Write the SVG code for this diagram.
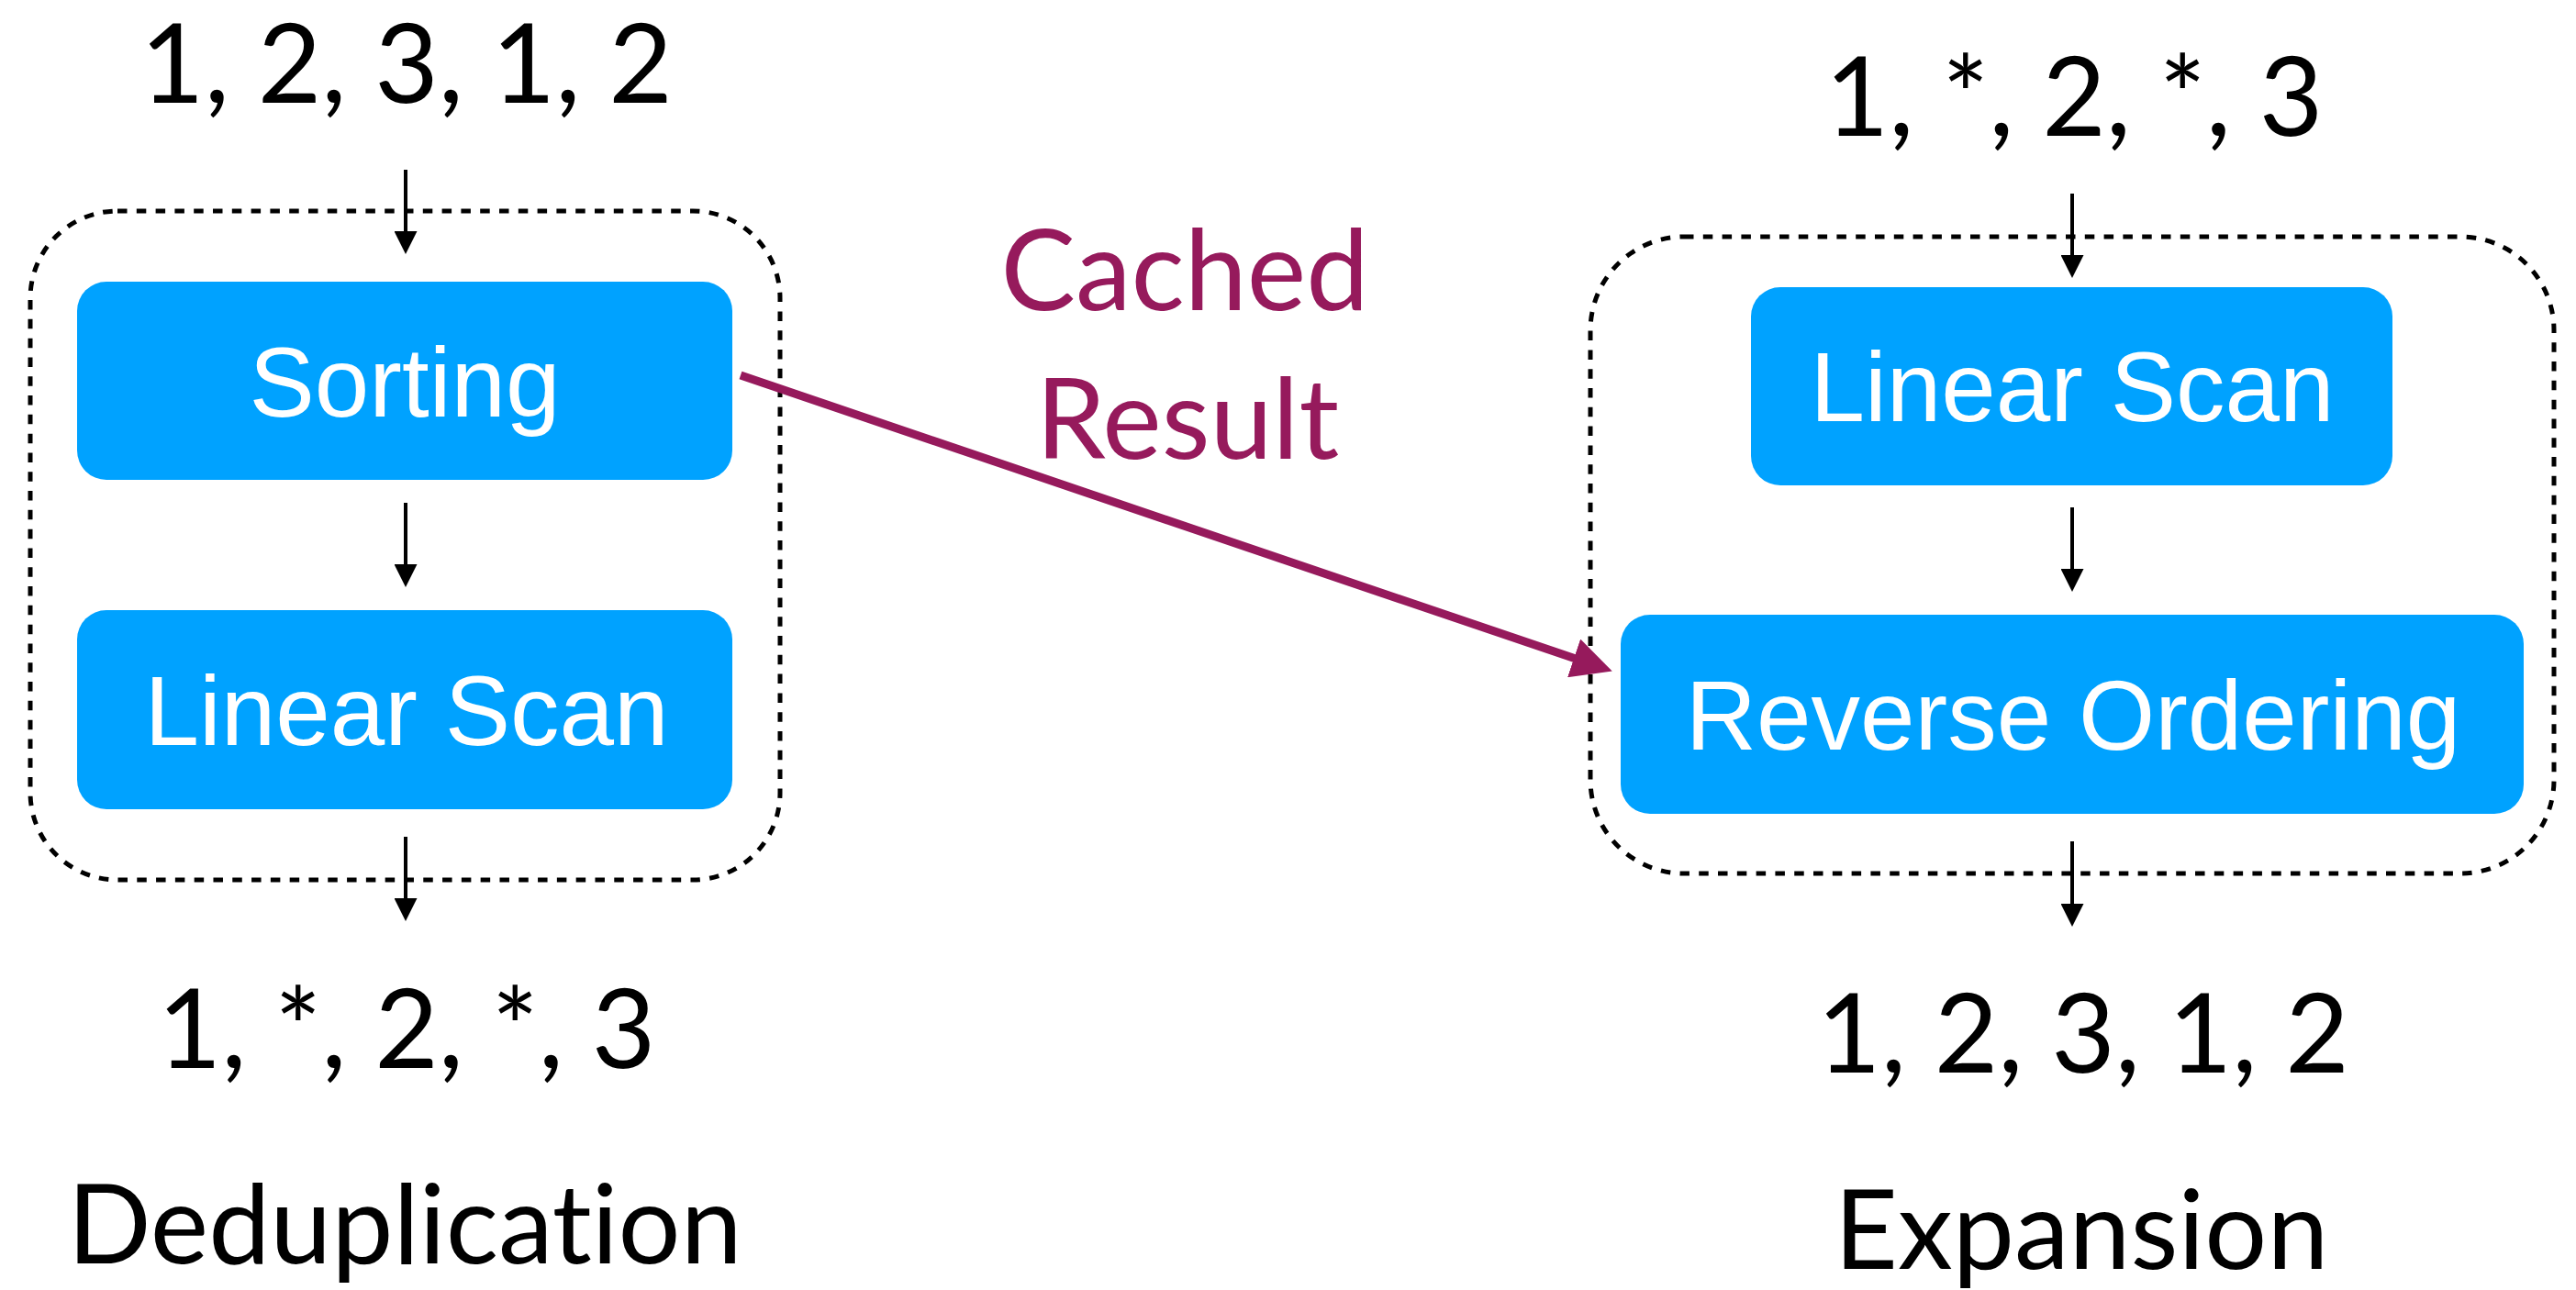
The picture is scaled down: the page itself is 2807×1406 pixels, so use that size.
<svg xmlns="http://www.w3.org/2000/svg" width="2807" height="1406" viewBox="0 0 2807 1406">
  <style>
    text { font-variant-ligatures: none; }
    .seq { font-family: Lato, "Noto Sans", sans-serif; font-size: 120px; fill: #000; text-anchor: middle; }
    .title { font-family: Lato, "Noto Sans", sans-serif; font-size: 120px; fill: #000; text-anchor: middle; }
    .cache { font-family: Lato, "Noto Sans", sans-serif; font-size: 122px; fill: #961A5C; text-anchor: middle; }
    .step { fill: #00A2FF; }
    .step-label { font-family: "Liberation Sans", Arial, sans-serif; font-size: 107px; fill: #fff; text-anchor: middle; }
    .frame { fill: none; stroke: #000; stroke-width: 5; stroke-dasharray: 10.5 10.3; }
    .flow { stroke: #000; stroke-width: 4; fill: none; marker-end: url(#head); }
    .reuse { stroke: #961A5C; stroke-width: 9; fill: none; marker-end: url(#head-reuse); }
  </style>
  <defs>
    <marker id="head" markerUnits="userSpaceOnUse" markerWidth="25" markerHeight="25" refX="1" refY="12.5" orient="auto">
      <path d="M0,0 L25,12.5 L0,25 z" fill="#000"/>
    </marker>
    <marker id="head-reuse" markerUnits="userSpaceOnUse" markerWidth="44" markerHeight="44" refX="2" refY="22" orient="auto">
      <path d="M0,0 L44,22 L0,44 z" fill="#961A5C"/>
    </marker>
  </defs>
  <rect width="2807" height="1406" fill="#fff"/>

  <!-- Deduplication pipeline -->
  <g id="dedup-input"><text class="seq" x="443" y="112">1, 2, 3, 1, 2</text></g>
  <g id="dedup-frame"><rect class="frame" x="33" y="230" width="817" height="729" rx="95" ry="95"/></g>
  <g id="sorting">
    <rect class="step" x="84" y="307" width="714" height="216" rx="32" ry="32"/>
    <text class="step-label" x="441" y="454">Sorting</text>
  </g>
  <g id="dedup-scan">
    <rect class="step" x="84" y="665" width="714" height="217" rx="32" ry="32"/>
    <text class="step-label" x="443" y="812">Linear Scan</text>
  </g>
  <g id="dedup-output"><text class="seq" x="443" y="1164">1, *, 2, *, 3</text></g>
  <g id="dedup-title"><text class="title" x="441" y="1377">Deduplication</text></g>

  <!-- Cache label -->
  <g id="cached-result">
    <text class="cache" x="1291" y="338">Cached</text>
    <text class="cache" x="1294" y="500">Result</text>
  </g>

  <!-- Expansion pipeline -->
  <g id="expand-input"><text class="seq" x="2260" y="148">1, *, 2, *, 3</text></g>
  <g id="expand-frame"><rect class="frame" x="1733" y="258" width="1050" height="694" rx="102" ry="102"/></g>
  <g id="expand-scan">
    <rect class="step" x="1908" y="313" width="699" height="216" rx="32" ry="32"/>
    <text class="step-label" x="2258" y="459">Linear Scan</text>
  </g>
  <g id="reverse-ordering">
    <rect class="step" x="1766" y="670" width="984" height="217" rx="32" ry="32"/>
    <text class="step-label" x="2259" y="817">Reverse Ordering</text>
  </g>
  <g id="expand-output"><text class="seq" x="2270" y="1169">1, 2, 3, 1, 2</text></g>
  <g id="expand-title"><text class="title" x="2268" y="1383">Expansion</text></g>

  <!-- Connectors -->
  <g id="connectors">
    <line class="flow" x1="442" y1="185" x2="442" y2="253"/>
    <line class="flow" x1="442" y1="548" x2="442" y2="616"/>
    <line class="flow" x1="442" y1="912" x2="442" y2="980"/>
    <line class="flow" x1="2258" y1="211" x2="2258" y2="279"/>
    <line class="flow" x1="2258" y1="553" x2="2258" y2="621"/>
    <line class="flow" x1="2258" y1="917" x2="2258" y2="986"/>
    <line class="reuse" x1="807" y1="409" x2="1717" y2="718"/>
  </g>
</svg>
